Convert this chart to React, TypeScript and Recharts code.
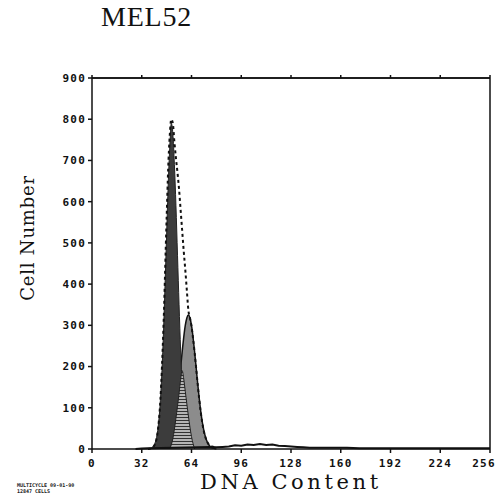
import {
  ComposedChart,
  Area,
  Line,
  XAxis,
  YAxis,
  ReferenceLine,
} from "recharts";

// DNA channel (x) and cell counts
const g1Bins = [36, 38, 39, 40, 41, 42, 43, 44, 45, 46, 47, 48, 49, 50, 51, 52, 53, 54, 55, 56, 57, 58, 59, 60, 61, 62, 63, 64];
const g1Counts = [0, 2, 5, 10, 20, 38, 70, 118, 190, 285, 400, 520, 640, 730, 790, 765, 690, 590, 470, 350, 240, 150, 88, 45, 22, 9, 3, 0];

const peak2Bins = [46, 48, 50, 52, 54, 56, 58, 60, 61, 62, 63, 64, 65, 66, 67, 68, 69, 70, 71, 72, 73, 74, 75, 76, 78, 80];
const peak2Counts = [2, 6, 18, 44, 90, 158, 236, 300, 318, 325, 318, 300, 271, 236, 197, 158, 122, 90, 64, 44, 29, 18, 11, 6, 2, 0];

const hatchBins = [50, 52, 54, 56, 57, 58, 59, 60, 62, 64, 66];
const hatchCounts = [0, 25, 75, 135, 168, 190, 170, 140, 80, 30, 0];

const fitBins = [36, 38, 40, 42, 44, 46, 48, 49, 50, 51, 52, 53, 54, 55, 56, 57, 58, 59, 60, 61, 62, 63, 64, 65, 66, 67, 68, 69, 70, 71, 72, 73, 74, 76, 80];
const fitCounts = [0, 2, 8, 35, 120, 300, 560, 680, 760, 800, 790, 745, 705, 670, 630, 580, 530, 480, 435, 385, 336, 318, 298, 268, 234, 196, 156, 120, 88, 62, 42, 28, 18, 8, 4];

const debrisBins = [28, 32, 36, 76, 80, 84, 88, 92, 96, 100, 104, 108, 112, 116, 120, 124, 128, 132, 136, 140, 148, 156, 164, 172, 180, 192, 204, 216, 228, 240, 256];
const debrisCounts = [0, 1, 2, 5, 4, 5, 6, 9, 8, 11, 10, 12, 10, 11, 8, 7, 6, 5, 4, 3, 3, 3, 3, 2, 2, 2, 2, 2, 2, 2, 2];

const xTicks = [0, 32, 64, 96, 128, 160, 192, 224, 256];
const yTicks = [0, 100, 200, 300, 400, 500, 600, 700, 800, 900];

const toRows = (xs: number[], ys: number[]) => xs.map((x, i) => ({ x, y: ys[i] }));

const tickFont = {
  fontFamily: "DejaVu Sans Mono",
  fontWeight: 700,
  fontSize: 11,
  letterSpacing: 1.2,
  fill: "#111",
};

const XTick = (props: any) => {
  const { x, y, payload } = props;
  const last = payload.value === 256;
  return (
    <text
      x={last ? x - 6 : x}
      y={y + 12}
      textAnchor="middle"
      {...tickFont}
    >
      {payload.value}
    </text>
  );
};

export default function App() {
  const g1 = toRows(g1Bins, g1Counts);
  const peak2 = toRows(peak2Bins, peak2Counts);
  const hatch = toRows(hatchBins, hatchCounts);
  const fit = toRows(fitBins, fitCounts);
  const debris = toRows(debrisBins, debrisCounts);

  return (
    <div style={{ position: "absolute", left: 0, top: 0, width: 500, height: 498, background: "#fff" }}>
      <div
        style={{
          position: "absolute",
          left: 101,
          top: 2,
          fontFamily: "Liberation Serif",
          fontSize: 28,
          lineHeight: "30px",
          letterSpacing: 0.8,
          color: "#111",
        }}
      >
        MEL52
      </div>
      <div
        style={{
          position: "absolute",
          left: 27,
          top: 238,
          transform: "translate(-50%, -50%) rotate(-90deg)",
          fontFamily: "DejaVu Serif",
          fontSize: 18,
          letterSpacing: 0.8,
          whiteSpace: "nowrap",
          color: "#111",
        }}
      >
        Cell Number
      </div>
      <div
        style={{
          position: "absolute",
          left: 200,
          top: 472,
          fontFamily: "DejaVu Serif",
          fontSize: 21,
          lineHeight: "21px",
          letterSpacing: 3.6,
          whiteSpace: "nowrap",
          color: "#111",
        }}
      >
        DNA Content
      </div>
      <div
        style={{
          position: "absolute",
          left: 17,
          top: 482,
          fontFamily: "DejaVu Sans Mono",
          fontWeight: 700,
          fontSize: 5,
          lineHeight: "6px",
          color: "#222",
        }}
      >
        MULTICYCLE 09-01-90
        <br />
        12847 CELLS
      </div>
      <ComposedChart
        width={500}
        height={498}
        margin={{ top: 77, right: 9, bottom: 19, left: 32 }}
        style={{ position: "absolute", left: 0, top: 0 }}
      >
        <defs>
          <pattern id="hlines" width="6" height="3" patternUnits="userSpaceOnUse">
            <rect width="6" height="3" fill="#b5b5b5" />
            <line x1="0" y1="0.5" x2="6" y2="0.5" stroke="#333" strokeWidth="1" />
          </pattern>
        </defs>
        <XAxis
          xAxisId="top"
          orientation="top"
          type="number"
          dataKey="x"
          domain={[0, 256]}
          ticks={xTicks}
          allowDataOverflow
          height={1}
          tickSize={3}
          tickFormatter={() => ""}
          stroke="#111"
          strokeWidth={1.5}
          interval={0}
        />
        <XAxis
          type="number"
          dataKey="x"
          domain={[0, 256]}
          ticks={xTicks}
          allowDataOverflow
          height={30}
          tickSize={4}
          tick={<XTick />}
          stroke="#111"
          strokeWidth={1.5}
          interval={0}
        />
        <YAxis
          type="number"
          domain={[0, 900]}
          ticks={yTicks}
          width={60}
          tickSize={4}
          tick={tickFont}
          stroke="#111"
          strokeWidth={1.5}
          interval={0}
        />
        <YAxis
          yAxisId="right"
          orientation="right"
          type="number"
          domain={[0, 900]}
          width={1}
          tick={false}
          tickLine={false}
          stroke="#111"
          strokeWidth={1.5}
        />
        <ReferenceLine y={900} stroke="#111" strokeWidth={1.5} />
        <Line
          data={debris}
          dataKey="y"
          type="linear"
          stroke="#111"
          strokeWidth={2}
          dot={false}
          isAnimationActive={false}
        />
        <Area
          data={peak2}
          dataKey="y"
          type="monotone"
          fill="#8c8c8c"
          fillOpacity={1}
          stroke="#111"
          strokeWidth={1.5}
          isAnimationActive={false}
        />
        <Area
          data={g1}
          dataKey="y"
          type="monotone"
          fill="#3c3c3c"
          fillOpacity={1}
          stroke="#222"
          strokeWidth={1}
          isAnimationActive={false}
        />
        <Area
          data={hatch}
          dataKey="y"
          type="monotone"
          fill="url(#hlines)"
          fillOpacity={1}
          stroke="#222"
          strokeWidth={1}
          isAnimationActive={false}
        />
        <Line
          xAxisId="top"
          data={fit}
          dataKey="y"
          type="monotone"
          stroke="#111"
          strokeWidth={2}
          strokeDasharray="3 3"
          dot={false}
          isAnimationActive={false}
        />
      </ComposedChart>
    </div>
  );
}
